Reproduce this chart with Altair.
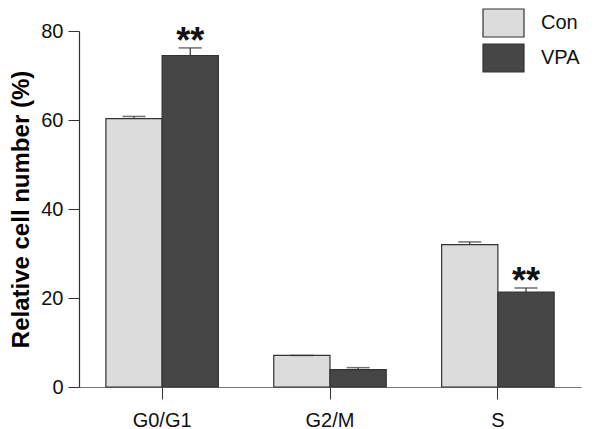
import altair as alt
import pandas as pd

categories = ["G0/G1", "G2/M", "S"]
groups = ["Con", "VPA"]
con_values = [60.3, 7.1, 32.0]
con_err = [0.5, 0.0, 0.6]
vpa_values = [74.5, 3.9, 21.35]
vpa_err = [1.7, 0.45, 0.9]
vpa_marks = ["**", "", "**"]
y_ticks = [0, 20, 40, 60, 80]
colors = ["#dcdcdc", "#464646"]

rows = []
for i, c in enumerate(categories):
    rows.append({"cat": c, "grp": "Con", "val": con_values[i], "err": con_err[i], "mark": ""})
    rows.append({"cat": c, "grp": "VPA", "val": vpa_values[i], "err": vpa_err[i], "mark": vpa_marks[i]})
df = pd.DataFrame(rows)
df["top"] = df["val"] + df["err"]

FONT = "Liberation Sans"

x = alt.X("cat:N", sort=categories, title=None,
          scale=alt.Scale(paddingInner=0.33, paddingOuter=0.16),
          axis=alt.Axis(labelAngle=0, labelFontSize=20, labelFont=FONT, labelColor="#111",
                        tickSize=12, tickColor="#333", domainColor="#777", domainWidth=1.2,
                        labelPadding=11))
xo = alt.XOffset("grp:N", sort=groups, scale=alt.Scale(paddingInner=0, paddingOuter=0))

base = alt.Chart(df)

bars = base.mark_bar(stroke="#333", strokeWidth=1.2).encode(
    x=x, xOffset=xo,
    y=alt.Y("val:Q", scale=alt.Scale(domain=[0, 80], nice=False),
            axis=alt.Axis(values=y_ticks, grid=False, labelFontSize=20, labelFont=FONT,
                          labelColor="#111", tickSize=11, tickColor="#333", domainColor="#333",
                          domainWidth=1.2, labelPadding=5,
                          title="Relative cell number (%)", titleFontSize=24, titleFont=FONT,
                          titleFontWeight="bold", titleColor="#000", titlePadding=7)),
    fill=alt.Fill("grp:N", sort=groups, scale=alt.Scale(domain=groups, range=colors),
                  legend=alt.Legend(title=None, orient="none", legendX=406, legendY=-26.5,
                                    symbolType="M-1.171,-0.8L1.171,-0.8L1.171,0.8L-1.171,0.8Z",
                                    symbolSize=1225, symbolStrokeColor="#333",
                                    symbolStrokeWidth=1.2, symbolOpacity=1,
                                    labelFontSize=20, labelFont=FONT, labelColor="#111",
                                    labelOffset=19, rowPadding=0, padding=0)),
)

err_rule = base.mark_rule(color="#333", strokeWidth=1.2).encode(
    x=x, xOffset=xo, y="val:Q", y2="top:Q")

err_cap = base.mark_tick(color="#333", thickness=1.5, size=23, orient="horizontal").encode(
    x=x, xOffset=xo, y="top:Q")

stars = base.mark_text(fontSize=36, fontWeight="bold", font=FONT, color="#111",
                       baseline="alphabetic", dy=5).encode(
    x=x, xOffset=xo, y="top:Q", text="mark:N")

chart = alt.layer(bars, err_rule, err_cap, stars).properties(
    width=502, height=356,
    autosize=alt.AutoSizeParams(type="none"),
    padding={"left": 71, "top": 23, "right": 12, "bottom": 42},
).configure_view(stroke=None)

chart.save("out.html", embed_options={"renderer": "svg", "actions": False})
